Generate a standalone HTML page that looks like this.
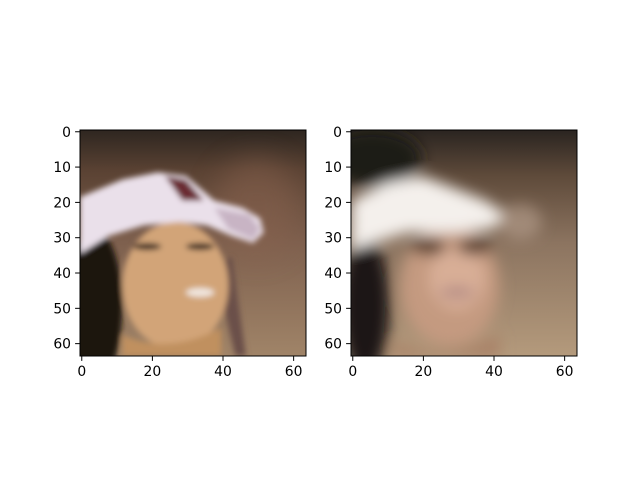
<!DOCTYPE html>
<html><head><meta charset="utf-8"><style>
html,body{margin:0;padding:0;background:#fff}
svg text{font-family:"DejaVu Sans","Liberation Sans",sans-serif;font-size:13.9px;fill:#000}
</style></head><body>
<svg id="fig" width="640" height="480" viewBox="0 0 640 480" xmlns="http://www.w3.org/2000/svg">
<defs>
<filter id="b1" x="-20%" y="-20%" width="140%" height="140%"><feGaussianBlur stdDeviation="0.8"/></filter>
<filter id="b2" x="-20%" y="-20%" width="140%" height="140%"><feGaussianBlur stdDeviation="2"/></filter>
<filter id="b3" x="-50%" y="-50%" width="200%" height="200%"><feGaussianBlur stdDeviation="4"/></filter>
<linearGradient id="bg1" x1="0" y1="0" x2="0" y2="1">
<stop offset="0" stop-color="#2e2620"/><stop offset="0.18" stop-color="#5a4233"/><stop offset="0.5" stop-color="#7e604e"/><stop offset="1" stop-color="#a08468"/></linearGradient>
<linearGradient id="bg2" x1="0" y1="0" x2="0" y2="1">
<stop offset="0" stop-color="#2a2420"/><stop offset="0.2" stop-color="#5e4a3a"/><stop offset="0.5" stop-color="#8c7460"/><stop offset="1" stop-color="#b49a7c"/></linearGradient>
<clipPath id="c"><rect x="0" y="0" width="64" height="64"/></clipPath>
</defs>

<g>
<svg x="80" y="130" width="226" height="226" viewBox="0 0 64 64" preserveAspectRatio="none">
<g clip-path="url(#c)">
<rect width="64" height="64" fill="url(#bg1)"/>
<ellipse cx="50" cy="22" rx="12" ry="14" fill="#8a6350" opacity="0.5" filter="url(#b3)"/>
<g filter="url(#b1)">
<ellipse cx="4" cy="50" rx="8" ry="22" fill="#1a1510"/>
<path d="M38 38 L44 64 L47 64 L43 36 Z" fill="#6a5048"/>
<ellipse cx="27" cy="44" rx="15" ry="18" fill="#d2a478"/>
<path d="M12 58 Q25 64 40 56 L40 64 L12 64 Z" fill="#c0905f"/>
<ellipse cx="19" cy="33" rx="4" ry="1" fill="#3a2a22"/>
<ellipse cx="34" cy="33" rx="4" ry="1" fill="#3a2a22"/>
<ellipse cx="34" cy="46" rx="4" ry="1.3" fill="#f0e6de"/>
<path d="M0 19 L12 14 L22 12 L30 13 L38 20 L46 22 L51 25 L52 29 L49 32 L43 30 L36 27 L28 26 L18 27 L8 30 L0 35 Z" fill="#eae0ea"/>
<path d="M24 13 L30 14 L35 20 L29 20 Z" fill="#6a2a30"/>
<path d="M38 22 L48 24 L51 28 L49 31 L42 28 Z" fill="#c8b4c4"/>
</g>
</g>
</svg>
</g>

<g>
<svg x="351" y="130" width="226" height="226" viewBox="0 0 64 64" preserveAspectRatio="none">
<g clip-path="url(#c)">
<rect width="64" height="64" fill="url(#bg2)"/>
<g filter="url(#b2)">
<ellipse cx="6" cy="8" rx="14" ry="8" fill="#1a1a18"/>
<ellipse cx="4" cy="50" rx="7" ry="20" fill="#1e1812"/>
<ellipse cx="28" cy="44" rx="14" ry="17" fill="#c49a80"/>
<ellipse cx="30" cy="42" rx="8" ry="9" fill="#d8ae96"/>
<path d="M12 60 Q26 66 42 58 L42 64 L12 64 Z" fill="#a88066"/>
<ellipse cx="22" cy="33" rx="5" ry="2.2" fill="#4a3020"/>
<ellipse cx="35" cy="33" rx="5" ry="2.2" fill="#4a3020"/>
<ellipse cx="30" cy="46" rx="5" ry="1.3" fill="#a88080"/>
<path d="M0 20 L10 15 L20 13 L28 16 L38 20 L44 24 L40 28 L28 29 L16 29 L6 32 L0 34 Z" fill="#f4f0ec"/>
<ellipse cx="48" cy="26" rx="6" ry="5" fill="#b8a090" opacity="0.6"/>
</g>
</g>
</svg>
</g>

<g id="axes"></g>
</svg>
<script>
const xTicks=[0,20,40,60];
const yTicks=[0,10,20,30,40,50,60];
const panels=[{name:'left',x0:80},{name:'right',x0:351}];
const NS='http://www.w3.org/2000/svg';
const g=document.getElementById('axes');
const Y0=130,S=226,N=64;
function mk(t,a,p){const e=document.createElementNS(NS,t);for(const k in a)e.setAttribute(k,a[k]);p.appendChild(e);return e;}
panels.forEach(p=>{
  const sx=v=>p.x0+(v+0.5)*S/N;
  const sy=v=>Y0+(v+0.5)*S/N;
  const fr=mk('rect',{x:p.x0,y:Y0,width:S,height:S,fill:'none',stroke:'#000','stroke-width':1},g);
  
  
  xTicks.forEach(v=>{
    const x=sx(v);
    const l=mk('line',{x1:x,x2:x,y1:Y0+S,y2:Y0+S+4.9,stroke:'#000','stroke-width':1},g);
    
    
    const t=mk('text',{x:x,y:Y0+S+20,'text-anchor':'middle'},g);
    t.textContent=v;
    
    
  });
  yTicks.forEach(v=>{
    const y=sy(v);
    const l=mk('line',{x1:p.x0-4.9,x2:p.x0,y1:y,y2:y,stroke:'#000','stroke-width':1},g);
    
    
    const t=mk('text',{x:p.x0-9,y:y+5,'text-anchor':'end'},g);
    t.textContent=v;
    
    
  });
});
</script>
</body></html>
